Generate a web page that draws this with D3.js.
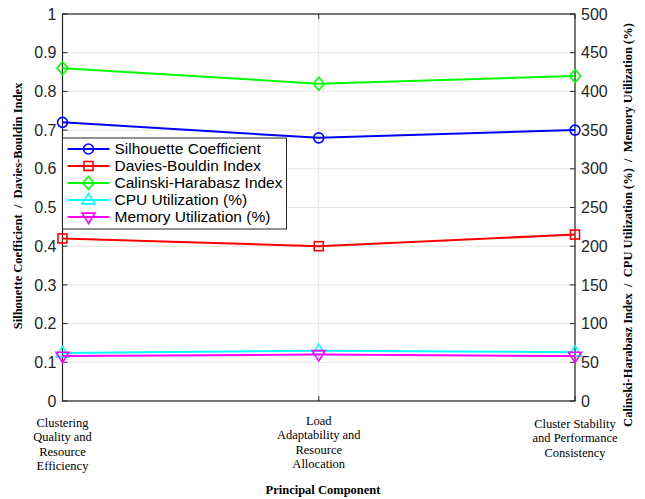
<!DOCTYPE html>
<html>
<head>
<meta charset="utf-8">
<script src="https://cdn.jsdelivr.net/npm/d3@7"></script>
<style>
  body { margin: 0; background: #fff; }
  svg { display: block; }
</style>
</head>
<body>
<div id="chart"></div>
<script>
// categories (multi-line labels)
const categories = [
  ["Clustering", "Quality and", "Resource", "Efficiency"],
  ["Load", "Adaptability and", "Resource", "Allocation"],
  ["Cluster Stability", "and Performance", "Consistency"]
];

// left axis series
const silhouette = [0.72, 0.68, 0.70];
const daviesBouldin = [0.42, 0.40, 0.43];
// right axis series
const calinski = [430, 410, 420];
const cpuUtil = [62, 65, 63];
const memUtil = [58, 60, 58];

const leftTicks = [0, 0.1, 0.2, 0.3, 0.4, 0.5, 0.6, 0.7, 0.8, 0.9, 1];
const rightTicks = [0, 50, 100, 150, 200, 250, 300, 350, 400, 450, 500];

const series = [
  { name: "Silhouette Coefficient", values: silhouette, axis: "left", color: "#0000ff", marker: "circle" },
  { name: "Davies-Bouldin Index", values: daviesBouldin, axis: "left", color: "#ff0000", marker: "square" },
  { name: "Calinski-Harabasz Index", values: calinski, axis: "right", color: "#00ff00", marker: "diamond" },
  { name: "CPU Utilization (%)", values: cpuUtil, axis: "right", color: "#00ffff", marker: "triUp" },
  { name: "Memory Utilization (%)", values: memUtil, axis: "right", color: "#ff00ff", marker: "triDown" }
];

const width = 645, height = 499;
const margin = { left: 62.5, right: 70, top: 14, bottom: 98 };
const plotW = width - margin.left - margin.right;
const plotH = height - margin.top - margin.bottom;

const AXIS_COLOR = "#262626";
const GRID_COLOR = "#e3e3e3";
const TICK_FONT = "Liberation Sans, Arial, sans-serif";
const SERIF = "Liberation Serif, Times New Roman, serif";
const SEP = "\u00a0\u00a0/\u00a0\u00a0";

const svg = d3.select("#chart").append("svg")
  .attr("width", width)
  .attr("height", height);

const g = svg.append("g").attr("transform", `translate(${margin.left},${margin.top})`);

const x = d3.scalePoint().domain(d3.range(categories.length)).range([0, plotW]);
const yL = d3.scaleLinear().domain([0, 1]).range([plotH, 0]);
const yR = d3.scaleLinear().domain([0, 500]).range([plotH, 0]);

// grid
g.append("g").selectAll("line").data(leftTicks).enter().append("line")
  .attr("x1", 0).attr("x2", plotW)
  .attr("y1", d => yL(d)).attr("y2", d => yL(d))
  .attr("stroke", GRID_COLOR).attr("stroke-width", 1);
g.append("g").selectAll("line").data(d3.range(categories.length)).enter().append("line")
  .attr("x1", d => x(d)).attr("x2", d => x(d))
  .attr("y1", 0).attr("y2", plotH)
  .attr("stroke", GRID_COLOR).attr("stroke-width", 1);

// box
g.append("rect").attr("x", 0).attr("y", 0).attr("width", plotW).attr("height", plotH)
  .attr("fill", "none").attr("stroke", AXIS_COLOR).attr("stroke-width", 1.2);

// left axis ticks + labels
const tickLen = 5;
g.append("g").selectAll("line").data(leftTicks).enter().append("line")
  .attr("x1", 0).attr("x2", tickLen)
  .attr("y1", d => yL(d)).attr("y2", d => yL(d))
  .attr("stroke", AXIS_COLOR);
g.append("g").selectAll("text").data(leftTicks).enter().append("text")
  .attr("x", -6).attr("y", d => yL(d))
  .attr("dy", "0.35em")
  .attr("text-anchor", "end")
  .style("font-family", TICK_FONT).style("font-size", "16px").style("fill", AXIS_COLOR)
  .text(d => d3.format("~g")(d));

// right axis ticks + labels
g.append("g").selectAll("line").data(rightTicks).enter().append("line")
  .attr("x1", plotW - tickLen).attr("x2", plotW)
  .attr("y1", d => yR(d)).attr("y2", d => yR(d))
  .attr("stroke", AXIS_COLOR);
g.append("g").selectAll("text").data(rightTicks).enter().append("text")
  .attr("x", plotW + 6).attr("y", d => yR(d))
  .attr("dy", "0.35em")
  .attr("text-anchor", "start")
  .style("font-family", TICK_FONT).style("font-size", "16px").style("fill", AXIS_COLOR)
  .text(d => d);

// x ticks (bottom and top, inward)
d3.range(categories.length).forEach(i => {
  g.append("line").attr("x1", x(i)).attr("x2", x(i)).attr("y1", plotH).attr("y2", plotH - tickLen).attr("stroke", AXIS_COLOR);
  g.append("line").attr("x1", x(i)).attr("x2", x(i)).attr("y1", 0).attr("y2", tickLen).attr("stroke", AXIS_COLOR);
});

// category labels (first-line baselines)
const catBase = [427, 425, 428];
categories.forEach((lines, i) => {
  const t = svg.append("text")
    .attr("text-anchor", "middle")
    .style("font-family", SERIF).style("font-size", "12.5px").style("fill", "#000");
  lines.forEach((ln, k) => {
    t.append("tspan").attr("x", margin.left + x(i)).attr("y", catBase[i] + 14.3 * k).text(ln);
  });
});

// axis titles
svg.append("text")
  .attr("x", 323).attr("y", 494)
  .attr("text-anchor", "middle")
  .style("font-family", SERIF).style("font-size", "12.5px").style("font-weight", "bold")
  .text("Principal Component");

svg.append("text")
  .attr("transform", `translate(22,206) rotate(-90)`)
  .attr("text-anchor", "middle")
  .style("font-family", SERIF).style("font-size", "12.5px").style("font-weight", "bold")
  .text("Silhouette Coefficient" + SEP + "Davies-Bouldin Index");
svg.append("text")
  .attr("transform", `translate(632,225) rotate(-90)`)
  .attr("text-anchor", "middle")
  .style("font-family", SERIF).style("font-size", "12.5px").style("font-weight", "bold")
  .text("Calinski-Harabasz Index" + SEP + "CPU Utilization (%)" + SEP + "Memory Utilization (%)");

// marker drawing
function drawMarker(sel, type, cx, cy, color) {
  const sw = 1.6;
  if (type === "circle") {
    sel.append("circle").attr("cx", cx).attr("cy", cy).attr("r", 5)
      .attr("fill", "none").attr("stroke", color).attr("stroke-width", sw);
  } else if (type === "square") {
    sel.append("rect").attr("x", cx - 4.5).attr("y", cy - 4.5).attr("width", 9).attr("height", 9)
      .attr("fill", "none").attr("stroke", color).attr("stroke-width", sw);
  } else if (type === "diamond") {
    const r = 6.5;
    sel.append("path").attr("d", `M${cx},${cy - r}L${cx + r * 0.85},${cy}L${cx},${cy + r}L${cx - r * 0.85},${cy}Z`)
      .attr("fill", "none").attr("stroke", color).attr("stroke-width", sw);
  } else if (type === "triUp") {
    const r = 6.5;
    sel.append("path").attr("d", `M${cx},${cy - r}L${cx + r},${cy + r * 0.6}L${cx - r},${cy + r * 0.6}Z`)
      .attr("fill", "none").attr("stroke", color).attr("stroke-width", sw);
  } else if (type === "triDown") {
    const r = 6.5;
    sel.append("path").attr("d", `M${cx},${cy + r}L${cx + r},${cy - r * 0.6}L${cx - r},${cy - r * 0.6}Z`)
      .attr("fill", "none").attr("stroke", color).attr("stroke-width", sw);
  }
}

// series lines
const lineGen = d3.line();
series.forEach(s => {
  const yS = s.axis === "left" ? yL : yR;
  const pts = s.values.map((v, i) => [x(i), yS(v)]);
  const sg = g.append("g");
  sg.append("path").attr("d", lineGen(pts))
    .attr("fill", "none").attr("stroke", s.color).attr("stroke-width", 2);
  pts.forEach(p => drawMarker(sg, s.marker, p[0], p[1], s.color));
});

// legend
const lg = svg.append("g").attr("transform", "translate(62.5,138)");
lg.append("rect").attr("x", 0).attr("y", 0).attr("width", 224).attr("height", 91)
  .attr("fill", "#fff").attr("stroke", AXIS_COLOR).attr("stroke-width", 1);
series.forEach((s, i) => {
  const cy = 11 + i * 17;
  lg.append("line").attr("x1", 5).attr("x2", 47).attr("y1", cy).attr("y2", cy)
    .attr("stroke", s.color).attr("stroke-width", 2);
  drawMarker(lg, s.marker, 26, cy, s.color);
  lg.append("text").attr("x", 52).attr("y", cy).attr("dy", "0.35em")
    .style("font-family", TICK_FONT).style("font-size", "15.5px").style("fill", "#000")
    .text(s.name);
});
</script>
</body>
</html>
